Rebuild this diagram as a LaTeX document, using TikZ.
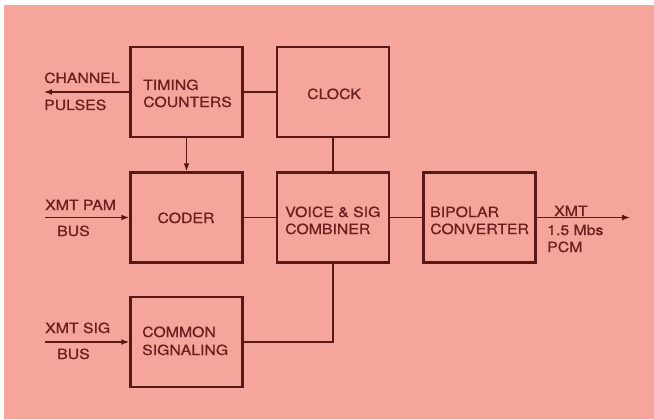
\documentclass[tikz,border=0pt]{standalone}
\usepackage{fontspec}
\setmainfont{TeX Gyre Heros}[FakeStretch=1.13,FakeBold=0.8]
\usetikzlibrary{arrows.meta}
\definecolor{bgpink}{RGB}{246,165,156}
\definecolor{linec}{RGB}{88,24,24}
\definecolor{textc}{RGB}{105,32,30}
\tikzset{
  blk/.style={draw=linec, line width=2.5pt, minimum width=112pt, minimum height=90pt, inner sep=0pt},
  conn/.style={draw=linec, line width=1.5pt},
  arr/.style={conn, -{Latex[length=8pt,width=6pt]}},
  lbl/.style={text=textc, inner sep=0pt, font=\fontsize{14}{16}\selectfont},
  lw/.style={lbl, anchor=base west},
  lc/.style={lbl, anchor=base},
}
\begin{document}
\begin{tikzpicture}[x=1pt,y=-1pt]
\useasboundingbox (0,0) rectangle (654,420);
\fill[white] (0,0) rectangle (654,420);
\fill[bgpink] (4,5) rectangle (654,419);
% blocks
\node[blk] (tc)    at (186.5,92)    {};
\node[blk] (clk)   at (333,92)      {};
\node[blk] (coder) at (186.5,217.5) {};
\node[blk] (comb)  at (333,217.5)   {};
\node[blk] (bip)   at (479.5,217.5) {};
\node[blk] (csig)  at (186.5,342)   {};
% block texts
\node[lw] (t1) at (143,90)  {TIMING};
\node[lw] (t2) at (143,107) {COUNTERS};
\node[lc] (t3) at (334,99)  {CLOCK};
\node[lc] (t4) at (186,223) {CODER};
\node[lw] (t5) at (285,217) {VOICE \& SIG};
\node[lw] (t6) at (285,234) {COMBINER};
\node[lw] (t7) at (430,217) {BIPOLAR};
\node[lw] (t8) at (430,234) {CONVERTER};
\node[lw] (t9) at (142,337) {COMMON};
\node[lw] (t10) at (142,355) {SIGNALING};
% outside labels
\node[lw] (l1) at (44,83)  {CHANNEL};
\node[lw] (l2) at (44,110) {PULSES};
\node[lw] (l3) at (45,210) {XMT PAM};
\node[lw] (l4) at (57,236) {BUS};
\node[lw] (l5) at (45,333) {XMT SIG};
\node[lw] (l6) at (57,359) {BUS};
\node[lw] (l7) at (554,216) {XMT};
\node[lw] (l8) at (547,235) {1.5 Mbs};
\node[lw] (l9) at (547,252) {PCM};
% free ends
\coordinate (chanend) at (44,92);
\coordinate (pamstart) at (45,217.5);
\coordinate (sigstart) at (45,342);
\coordinate (xmtend) at (630,217.5);
% connectors
\draw[arr] (tc.west) -- (chanend);
\draw[conn] (tc.east) -- (clk.west);
\draw[arr] (tc.south) -- (coder.north);
\draw[conn] (clk.south) -- (comb.north);
\draw[conn] (coder.east) -- (comb.west);
\draw[conn] (comb.east) -- (bip.west);
\draw[arr] (bip.east) -- (xmtend);
\draw[conn] (comb.south) |- (csig.east);
\draw[arr] (pamstart) -- (coder.west);
\draw[arr] (sigstart) -- (csig.west);
\end{tikzpicture}
\end{document}
